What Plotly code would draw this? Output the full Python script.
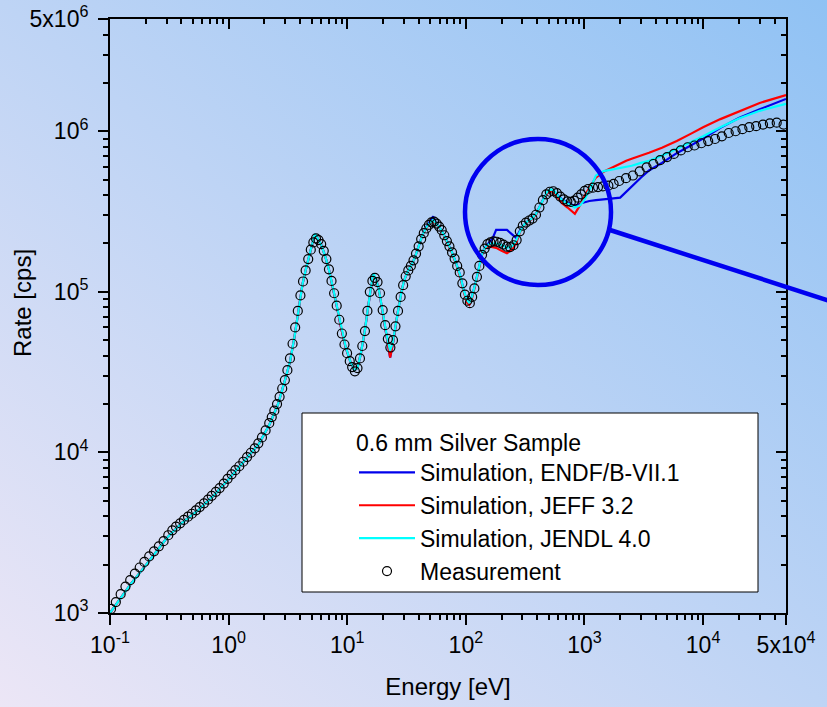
import base64
import plotly.graph_objects as go

# ---------------- data ----------------
meas_energy = [
    0.102, 0.112, 0.123, 0.135, 0.148, 0.162, 0.178, 0.195, 0.214, 0.235, 0.258, 0.283,
    0.31, 0.335, 0.36, 0.39, 0.42, 0.455, 0.49, 0.53, 0.57, 0.62, 0.67, 0.72, 0.78, 0.84,
    0.91, 0.98, 1.06, 1.14, 1.23, 1.33, 1.43, 1.54, 1.66, 1.78, 1.91, 2.05, 2.2,
    2.31, 2.43, 2.56, 2.69, 2.83, 2.98, 3.13, 3.29, 3.46, 3.64, 3.83, 4.03, 4.24, 4.46,
    4.69, 4.93, 5.18, 5.45, 5.73, 6.03, 6.34, 6.67, 7.01, 7.37, 7.75, 8.15, 8.57, 9.01,
    9.48, 9.97, 10.5, 11.0, 11.6, 12.2,
    12.8, 13.4, 14.1, 14.8, 15.5, 16.3, 17.1, 18.0, 18.9, 19.9, 20.9, 22.0, 23.1,
    24.3, 25.5, 26.8, 28.2, 29.6, 31.1, 32.7, 34.4, 36.2, 38.0, 40.0, 42.0, 44.2, 46.4,
    48.8, 51.3, 53.9, 56.7, 59.6, 62.6, 65.8, 69.2, 72.7, 76.5, 80.4, 84.5, 88.8, 93.4,
    98.2, 103, 108,
    113, 118, 124, 130, 137, 144, 152, 161, 171, 182, 194, 207, 221, 236, 252, 268, 285,
    302, 321, 342, 365, 390, 417, 446, 477, 510, 546, 585, 626, 670, 717, 767, 820, 877,
    938, 1004,
    1075, 1180, 1300, 1430, 1590, 1760, 1960, 2240, 2560, 2920, 3340, 3810, 4350, 4970,
    5680, 6490, 7410, 8460, 9670, 11040, 12610, 14400, 16450, 18800, 21470, 24520, 28010,
    32000, 36550, 41750, 47690,
]
meas_rate = [
    1.06e3, 1.17e3, 1.31e3, 1.46e3, 1.60e3, 1.76e3, 1.92e3, 2.08e3, 2.25e3, 2.42e3, 2.60e3, 2.80e3,
    3.05e3, 3.27e3, 3.45e3, 3.62e3, 3.80e3, 3.98e3, 4.15e3, 4.36e3, 4.57e3, 4.82e3, 5.08e3, 5.37e3,
    5.68e3, 6.00e3, 6.40e3, 6.85e3, 7.30e3, 7.75e3, 8.20e3, 8.75e3, 9.35e3, 9.95e3, 1.06e4, 1.14e4,
    1.24e4, 1.37e4, 1.52e4,
    1.66e4, 1.82e4, 2.00e4, 2.22e4, 2.50e4, 2.82e4, 3.25e4, 3.85e4, 4.75e4, 6.0e4, 7.6e4, 9.5e4,
    1.16e5, 1.36e5, 1.60e5, 1.83e5, 2.03e5, 2.15e5, 2.10e5, 1.98e5, 1.80e5, 1.60e5, 1.38e5, 1.17e5,
    9.8e4, 8.2e4, 6.7e4, 5.5e4, 4.7e4, 4.15e4, 3.7e4, 3.4e4, 3.2e4, 3.35e4,
    3.85e4, 4.6e4, 5.7e4, 7.6e4, 1.0e5, 1.17e5, 1.22e5, 1.15e5, 9.8e4, 7.7e4, 6.2e4, 5.1e4, 4.5e4,
    5.0e4, 6.1e4, 7.6e4, 9.3e4, 1.10e5, 1.25e5, 1.36e5, 1.45e5, 1.57e5, 1.73e5, 1.92e5, 2.13e5,
    2.32e5, 2.48e5, 2.61e5, 2.71e5, 2.74e5, 2.66e5, 2.55e5, 2.42e5, 2.25e5, 2.07e5, 1.92e5, 1.76e5,
    1.61e5, 1.45e5, 1.32e5, 1.13e5, 9.6e4, 8.8e4, 8.5e4,
    9.3e4, 1.05e5, 1.24e5, 1.45e5, 1.70e5, 1.86e5, 1.98e5, 2.03e5, 2.06e5, 2.05e5, 2.02e5, 1.97e5,
    1.91e5, 1.90e5, 1.95e5, 2.10e5, 2.38e5, 2.58e5, 2.70e5, 2.78e5, 2.86e5, 3.02e5, 3.35e5, 3.72e5,
    4.05e5, 4.20e5, 4.23e5, 4.12e5, 3.92e5, 3.76e5, 3.66e5, 3.63e5, 3.70e5, 3.86e5, 4.05e5, 4.25e5,
    4.37e5, 4.45e5, 4.49e5, 4.53e5, 4.58e5, 4.70e5, 4.90e5, 5.10e5, 5.30e5, 5.62e5, 5.95e5, 6.25e5,
    6.60e5, 6.90e5, 7.22e5, 7.60e5, 7.95e5, 8.15e5, 8.42e5, 8.68e5, 8.95e5, 9.30e5, 9.75e5, 1.00e6,
    1.03e6, 1.06e6, 1.075e6, 1.10e6, 1.12e6, 1.13e6, 1.10e6,
]

sim_energy = [
    0.1, 0.15, 0.2, 0.3, 0.4, 0.55, 0.75, 1.0, 1.4, 1.8,
    2.2, 2.6, 3.0, 3.3, 3.6, 3.9, 4.2, 4.5, 4.8, 5.1,
    5.35, 5.6, 6.0, 6.5, 7.0, 7.6, 8.2, 8.9, 9.7, 10.6,
    11.5, 12.2, 13.0, 14.0, 14.9, 15.8, 16.6, 17.4, 18.4, 19.5,
    20.7, 22.0, 23.0, 24.2, 25.5, 27.0, 28.5, 30.0, 32.0, 34.5,
    37.0, 40.0, 43.0, 46.5, 50.0, 53.0, 56.0, 60.0, 65.0, 70.0,
    76.0, 83.0, 90.0, 96.0, 102, 107, 113, 120, 128, 137,
    146, 156, 168, 180, 200, 222, 245, 265, 285, 305,
    330, 360, 390, 420, 450, 485, 520, 555, 600, 650,
    720, 830, 920, 1000, 1100, 1250, 1450, 1750, 2000, 2250,
    2500, 3000, 3500, 4500, 6000, 8000, 10000, 14000, 20000, 30000,
    50000,
]
endf_rate = [
    1.0e3, 1.52e3, 1.98e3, 2.92e3, 3.62e3, 4.35e3, 5.4e3, 6.8e3, 9.1e3, 1.13e4,
    1.48e4, 1.98e4, 2.85e4, 3.7e4, 5.3e4, 8.0e4, 1.12e5, 1.40e5, 1.72e5, 2.02e5,
    2.22e5, 2.16e5, 1.98e5, 1.68e5, 1.38e5, 1.05e5, 8.0e4, 5.9e4, 4.5e4, 3.7e4,
    3.25e4, 3.35e4, 4.1e4, 5.6e4, 8.0e4, 1.05e5, 1.25e5, 1.20e5, 1.05e5, 8.2e4,
    6.2e4, 4.8e4, 3.9e4, 4.7e4, 6.1e4, 7.9e4, 9.8e4, 1.16e5, 1.32e5, 1.45e5,
    1.62e5, 1.92e5, 2.25e5, 2.54e5, 2.75e5, 2.95e5, 2.68e5, 2.52e5, 2.28e5, 2.02e5,
    1.78e5, 1.50e5, 1.25e5, 1.02e5, 8.8e4, 8.5e4, 9.4e4, 1.12e5, 1.40e5, 1.72e5,
    1.90e5, 2.0e5, 2.15e5, 2.43e5, 2.43e5, 2.43e5, 2.28e5, 2.17e5, 2.40e5, 2.58e5,
    2.74e5, 2.86e5, 3.04e5, 3.40e5, 3.78e5, 4.12e5, 4.28e5, 4.22e5, 3.95e5, 3.75e5,
    3.6e5, 3.42e5, 3.55e5, 3.62e5, 3.68e5, 3.72e5, 3.78e5, 3.82e5, 3.86e5, 4.2e5,
    4.55e5, 5.15e5, 5.7e5, 6.35e5, 7.3e5, 8.2e5, 9.0e5, 1.05e6, 1.21e6, 1.37e6,
    1.59e6,
]
jeff_rate = [
    1.0e3, 1.52e3, 1.98e3, 2.92e3, 3.62e3, 4.35e3, 5.4e3, 6.8e3, 9.1e3, 1.13e4,
    1.48e4, 1.98e4, 2.85e4, 3.7e4, 5.3e4, 8.0e4, 1.12e5, 1.40e5, 1.72e5, 2.02e5,
    2.22e5, 2.16e5, 1.98e5, 1.68e5, 1.38e5, 1.05e5, 8.0e4, 5.9e4, 4.5e4, 3.7e4,
    3.25e4, 3.35e4, 4.1e4, 5.6e4, 8.0e4, 1.05e5, 1.24e5, 1.20e5, 1.05e5, 8.2e4,
    6.2e4, 4.8e4, 3.9e4, 4.7e4, 6.1e4, 7.9e4, 9.8e4, 1.16e5, 1.32e5, 1.45e5,
    1.62e5, 1.92e5, 2.25e5, 2.50e5, 2.68e5, 2.76e5, 2.66e5, 2.50e5, 2.26e5, 2.0e5,
    1.76e5, 1.48e5, 1.22e5, 1.0e5, 8.6e4, 8.3e4, 9.2e4, 1.10e5, 1.38e5, 1.70e5,
    1.88e5, 1.92e5, 1.90e5, 1.88e5, 1.80e5, 1.74e5, 1.83e5, 2.0e5, 2.34e5, 2.56e5,
    2.72e5, 2.84e5, 3.02e5, 3.38e5, 3.76e5, 4.10e5, 4.25e5, 4.15e5, 3.85e5, 3.55e5,
    3.35e5, 3.06e5, 3.48e5, 3.95e5, 4.45e5, 5.15e5, 5.6e5, 6.0e5, 6.3e5, 6.55e5,
    6.75e5, 7.05e5, 7.35e5, 7.9e5, 8.7e5, 9.7e5, 1.06e6, 1.19e6, 1.33e6, 1.50e6,
    1.68e6,
]
jendl_rate = [
    1.0e3, 1.52e3, 1.98e3, 2.92e3, 3.62e3, 4.35e3, 5.4e3, 6.8e3, 9.1e3, 1.13e4,
    1.48e4, 1.98e4, 2.85e4, 3.7e4, 5.3e4, 8.0e4, 1.12e5, 1.40e5, 1.72e5, 2.03e5,
    2.30e5, 2.17e5, 1.98e5, 1.68e5, 1.38e5, 1.05e5, 8.0e4, 5.9e4, 4.55e4, 3.7e4,
    3.25e4, 3.35e4, 4.1e4, 5.6e4, 8.0e4, 1.05e5, 1.30e5, 1.21e5, 1.05e5, 8.2e4,
    6.2e4, 4.9e4, 4.3e4, 4.8e4, 6.1e4, 7.9e4, 9.8e4, 1.16e5, 1.32e5, 1.45e5,
    1.62e5, 1.92e5, 2.25e5, 2.52e5, 2.70e5, 2.80e5, 2.68e5, 2.52e5, 2.28e5, 2.02e5,
    1.78e5, 1.50e5, 1.25e5, 1.02e5, 8.9e4, 8.5e4, 9.4e4, 1.12e5, 1.40e5, 1.72e5,
    1.90e5, 1.98e5, 2.0e5, 2.0e5, 1.96e5, 1.88e5, 1.92e5, 2.08e5, 2.36e5, 2.58e5,
    2.74e5, 2.86e5, 3.05e5, 3.42e5, 3.82e5, 4.20e5, 4.35e5, 4.25e5, 3.95e5, 3.72e5,
    3.55e5, 3.35e5, 3.45e5, 3.75e5, 4.3e5, 5.3e5, 5.65e5, 5.8e5, 5.9e5, 6.0e5,
    6.1e5, 6.35e5, 6.55e5, 7.05e5, 7.75e5, 8.6e5, 9.3e5, 1.06e6, 1.20e6, 1.34e6,
    1.48e6,
]

x_tick_vals = [0.1, 1, 10, 100, 1000, 10000, 50000]
x_tick_text = ["10<sup>-1</sup>", "10<sup>0</sup>", "10<sup>1</sup>", "10<sup>2</sup>",
               "10<sup>3</sup>", "10<sup>4</sup>", "5x10<sup>4</sup>"]
y_tick_vals = [1e3, 1e4, 1e5, 1e6, 5e6]
y_tick_text = ["10<sup>3</sup>", "10<sup>4</sup>", "10<sup>5</sup>", "10<sup>6</sup>", "5x10<sup>6</sup>"]

legend_title = "0.6 mm Silver Sample"
x_title = "Energy [eV]"
y_title = "Rate [cps]"

assert len(meas_energy) == len(meas_rate)
assert len(sim_energy) == len(endf_rate) == len(jeff_rate) == len(jendl_rate)

# ---------------- layout geometry ----------------
W, H = 827, 707
L, R, T, B = 110, 41, 19, 94
PW, PH = W - L - R, H - T - B


def px(xp):
    return (xp - L) / PW


def py(yp):
    return (H - B - yp) / PH


x_minor = [m * 10 ** e for e in range(-1, 5) for m in range(2, 10) if m * 10 ** e < 50000]
y_minor = [m * 10 ** e for e in range(3, 7) for m in range(2, 10) if m * 10 ** e < 5e6]

FONT = "Liberation Sans, Arial, sans-serif"

fig = go.Figure()
fig.add_trace(go.Scatter(x=sim_energy, y=endf_rate, mode="lines", name="Simulation, ENDF/B-VII.1",
                         line=dict(color="rgb(0,0,235)", width=2.2)))
fig.add_trace(go.Scatter(x=sim_energy, y=jeff_rate, mode="lines", name="Simulation, JEFF 3.2",
                         line=dict(color="rgb(255,0,0)", width=2.2)))
fig.add_trace(go.Scatter(x=sim_energy, y=jendl_rate, mode="lines", name="Simulation, JENDL 4.0",
                         line=dict(color="rgb(0,255,255)", width=2.2)))
fig.add_trace(go.Scatter(x=meas_energy, y=meas_rate, mode="markers", name="Measurement",
                         marker=dict(symbol="circle-open", size=9, color="black",
                                     line=dict(width=1.2, color="black"))))
# helper trace for mirrored (inward) axes
fig.add_trace(go.Scatter(x=[None], y=[None], xaxis="x2", yaxis="y2", showlegend=False,
                         hoverinfo="skip", mode="markers"))

common_x = dict(type="log", range=[-1, 4.69897], showgrid=False, zeroline=False,
                tickmode="array", tickvals=x_tick_vals, ticklen=10, tickwidth=2,
                tickcolor="black")
common_y = dict(type="log", range=[3, 6.69897], showgrid=False, zeroline=False,
                tickmode="array", tickvals=y_tick_vals, ticklen=10, tickwidth=2,
                tickcolor="black")

svg = (f'<svg xmlns="http://www.w3.org/2000/svg" width="{W}" height="{H}" viewBox="0 0 {W} {H}" '
       'preserveAspectRatio="none"><defs><linearGradient id="g" x1="0" y1="1" x2="1" y2="0">'
       '<stop offset="0" stop-color="#ece6f6"/><stop offset="1" stop-color="#90c2f4"/>'
       f'</linearGradient></defs><rect width="{W}" height="{H}" fill="url(#g)"/></svg>')
bg_uri = "data:image/svg+xml;base64," + base64.b64encode(svg.encode()).decode()

fig.update_layout(
    width=W, height=H,
    margin=dict(l=L, r=R, t=T, b=B, autoexpand=False),
    paper_bgcolor="#c0d6ef",
    plot_bgcolor="rgba(0,0,0,0)",
    font=dict(family=FONT, size=23, color="black"),
    images=[dict(source=bg_uri, xref="paper", yref="paper", x=-L / PW, y=1 + T / PH,
                 sizex=W / PW, sizey=H / PH, xanchor="left", yanchor="top",
                 sizing="stretch", layer="below")],
    xaxis=dict(**common_x, ticktext=x_tick_text, ticks="outside", showline=True, linewidth=2,
               linecolor="black", mirror=True,
               minor=dict(tickmode="array", tickvals=x_minor, ticks="outside", ticklen=5,
                          tickwidth=1.5, tickcolor="black", showgrid=False),
               title=dict(text=x_title, font=dict(size=24), standoff=22),
               tickfont=dict(size=23)),
    yaxis=dict(**common_y, ticktext=y_tick_text, ticks="outside", showline=True, linewidth=2,
               linecolor="black", mirror=True, ticklabelstandoff=5,
               minor=dict(tickmode="array", tickvals=y_minor, ticks="outside", ticklen=5,
                          tickwidth=1.5, tickcolor="black", showgrid=False),
               tickfont=dict(size=23)),
    xaxis2=dict(**common_x, overlaying="x", side="top", anchor="y2", ticks="inside",
                showticklabels=False, showline=False,
                minor=dict(tickmode="array", tickvals=x_minor, ticks="inside", ticklen=5,
                           tickwidth=1.5, tickcolor="black", showgrid=False)),
    yaxis2=dict(**common_y, overlaying="y", side="right", anchor="x2", ticks="inside",
                showticklabels=False, showline=False,
                minor=dict(tickmode="array", tickvals=y_minor, ticks="inside", ticklen=5,
                           tickwidth=1.5, tickcolor="black", showgrid=False)),
    annotations=[dict(text=y_title, textangle=-90, xref="paper", yref="paper",
                      x=px(22), y=py(303), xanchor="center", yanchor="middle",
                      showarrow=False, font=dict(size=24))],
    showlegend=True,
    legend=dict(x=px(354), y=py(421), xanchor="left", yanchor="top",
                bgcolor="rgba(0,0,0,0)", borderwidth=0, itemwidth=56,
                font=dict(size=23), tracegroupgap=0,
                title=dict(text=legend_title, side="top", font=dict(size=23))),
    shapes=[
        dict(type="rect", xref="paper", yref="paper", x0=px(302), x1=px(758), y0=py(592), y1=py(413),
             fillcolor="white", line=dict(color="black", width=1), layer="above"),
        dict(type="circle", xref="paper", yref="paper", x0=px(465), x1=px(611), y0=py(285), y1=py(139),
             line=dict(color="rgb(0,0,240)", width=4.5), layer="above"),
        dict(type="line", xref="paper", yref="paper", x0=px(610), y0=py(230), x1=px(830), y1=py(301),
             line=dict(color="rgb(0,0,240)", width=4.5), layer="above"),
    ],
)

fig.write_html("out.html", config={"displayModeBar": False},
               post_script="document.body.style.margin='0';document.body.style.overflow='hidden';")
